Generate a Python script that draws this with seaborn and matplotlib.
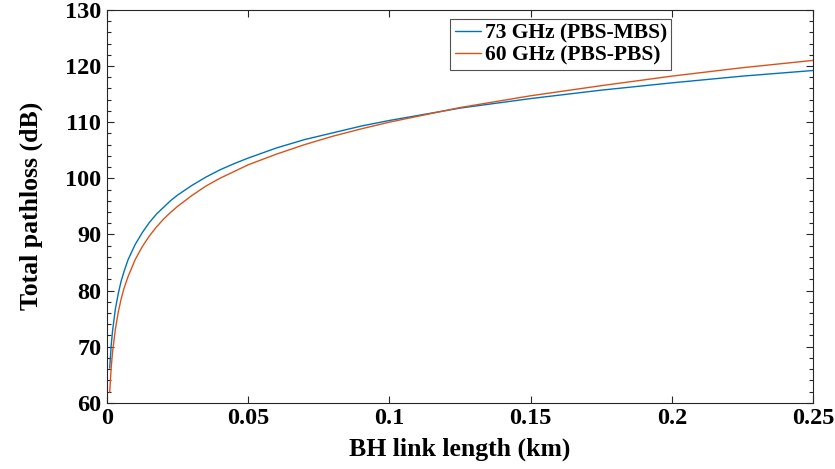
import numpy as np
import pandas as pd
import matplotlib
matplotlib.use("Agg")
import matplotlib.pyplot as plt
from matplotlib.ticker import MultipleLocator
import seaborn as sns

# BH link length (km)
link_km = [0.001, 0.0015, 0.002, 0.003, 0.004, 0.005, 0.006, 0.0075, 0.01, 0.0125,
           0.015, 0.0175, 0.02, 0.0225, 0.025, 0.03, 0.035, 0.04, 0.045, 0.05,
           0.06, 0.07, 0.08, 0.09, 0.1, 0.125, 0.15, 0.175, 0.2, 0.225, 0.25]

# total pathloss (dB)
loss_73 = [66.2, 70.1, 72.8, 76.7, 79.4, 81.6, 83.3, 85.5, 88.2, 90.3,
           92.1, 93.6, 94.8, 96.0, 97.0, 98.7, 100.2, 101.5, 102.6, 103.6,
           105.4, 106.9, 108.1, 109.3, 110.3, 112.5, 114.2, 115.7, 117.0, 118.2, 119.2]
loss_60 = [61.9, 66.1, 69.0, 73.1, 76.1, 78.4, 80.3, 82.5, 85.5, 87.8,
           89.7, 91.3, 92.7, 93.9, 95.0, 96.9, 98.6, 100.0, 101.2, 102.4,
           104.3, 106.0, 107.5, 108.8, 110.0, 112.6, 114.7, 116.5, 118.2, 119.7, 121.0]

labels = ["73 GHz (PBS-MBS)", "60 GHz (PBS-PBS)"]
colors = ["#0072BD", "#D95319"]

df = pd.concat([
    pd.DataFrame({"d": link_km, "loss": loss_73, "link": labels[0]}),
    pd.DataFrame({"d": link_km, "loss": loss_60, "link": labels[1]}),
])

sns.set_style("ticks")
plt.rcParams["font.family"] = ["Liberation Serif", "DejaVu Serif"]
plt.rcParams["font.weight"] = "bold"
plt.rcParams["text.color"] = "black"
plt.rcParams["axes.labelcolor"] = "black"

fig = plt.figure(figsize=(8.35, 4.69), dpi=100)
ax = fig.add_axes([0.128, 0.141, 0.846, 0.838])

sns.lineplot(data=df, x="d", y="loss", hue="link", hue_order=labels,
             palette=dict(zip(labels, colors)), linewidth=1.0, ax=ax, sort=False)

ax.set_xlim(0, 0.25)
ax.set_ylim(60, 130)
ax.set_xticks([0, 0.05, 0.1, 0.15, 0.2, 0.25])
ax.set_xticklabels(["0", "0.05", "0.1", "0.15", "0.2", "0.25"])
ax.yaxis.set_minor_locator(MultipleLocator(2))
ax.tick_params(direction="in", top=True, right=True, which="both",
               labelsize=17.5, width=0.8, color="#262626", labelcolor="black")
ax.tick_params(which="major", length=5, pad=4)
ax.tick_params(which="minor", length=3)
for lab in ax.get_xticklabels() + ax.get_yticklabels():
    lab.set_fontweight("bold")
for s in ax.spines.values():
    s.set_linewidth(0.8)
    s.set_color("#262626")

ax.set_xlabel("BH link length (km)", fontsize=18.5, fontweight="bold", labelpad=6)
ax.set_ylabel("Total pathloss (dB)", fontsize=18.5, fontweight="bold", labelpad=16)

leg = ax.legend(loc="upper left", bbox_to_anchor=(0.486, 0.976), fontsize=15.5,
                frameon=True, fancybox=False, handlelength=1.25, handletextpad=0.15,
                borderpad=0.2, labelspacing=0.1, borderaxespad=0)
leg.get_frame().set_edgecolor("#262626")
leg.get_frame().set_linewidth(0.8)
for t in leg.get_texts():
    t.set_fontweight("bold")

fig.savefig("out.png", dpi=100)
